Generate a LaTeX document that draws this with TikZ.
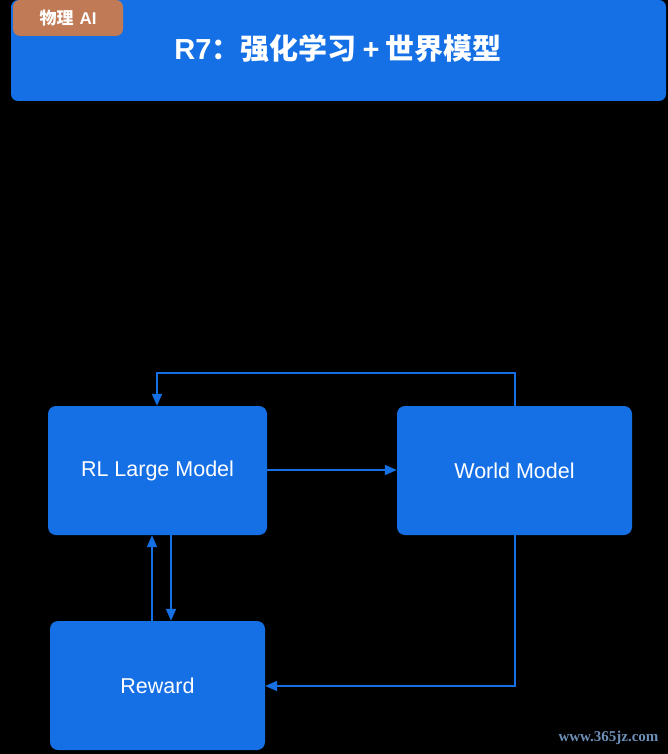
\documentclass[tikz,border=0pt]{standalone}
\usepackage{fontspec}
\setmainfont{Liberation Sans}
\newfontfamily\cjk{Noto Sans CJK SC}
\newfontfamily\wmfont{Liberation Serif}
\usetikzlibrary{arrows.meta}
\definecolor{mblue}{HTML}{1570E6}
\definecolor{tagbrown}{HTML}{C07A55}
\definecolor{wmark}{HTML}{6E8FB8}
\begin{document}
\begin{tikzpicture}[x=1pt,y=-1pt,
  boxtext/.style={text=white,font=\fontsize{21.5}{25}\selectfont},
  conn/.style={draw=mblue,line width=1.8pt,-{Triangle[length=12pt,width=10pt]}}]
\fill[black] (0,0) rectangle (668,754);
\useasboundingbox (0,0) rectangle (668,754);
% header
\fill[mblue,rounded corners=7pt] (11,0) rectangle (666,101);
\fill[tagbrown,rounded corners=7pt] (13,0) rectangle (123,36);
\node[text=white,font=\bfseries\fontsize{17}{20}\selectfont] (tag) at (68,18) {{\cjk 物理}\hspace{6pt}AI};
\node[text=white,font=\bfseries\fontsize{29}{32}\selectfont] (title) at (338,48) {R7{\cjk ：强化学习}\hspace{6pt}+\hspace{6pt}{\cjk 世界模型}};
% boxes
\fill[mblue,rounded corners=8pt] (48,406) rectangle (267,535);
\node[boxtext,minimum width=219pt,minimum height=129pt] (rl) at (157.5,470.5) {RL Large Model};
\fill[mblue,rounded corners=8pt] (397,406) rectangle (632,535);
\node[boxtext,minimum width=235pt,minimum height=129pt] (wm) at (514.5,470.5) {World Model};
\fill[mblue,rounded corners=8pt] (50,621) rectangle (265,750);
\node[boxtext,minimum width=215pt,minimum height=129pt] (rw) at (157.5,685.5) {Reward};
% connectors
\coordinate (c1) at (515,373);
\coordinate (c2) at (157,373);
\coordinate (c3) at (515,686);
\draw[conn] (wm.north -| c1) -- (c1) -- (c2) -- (rl.north -| c2);
\draw[conn] (rl.east |- 0,470) -- (wm.west |- 0,470);
\draw[conn] (rw.north -| 152,0) -- (rl.south -| 152,0);
\draw[conn] (rl.south -| 171,0) -- (rw.north -| 171,0);
\draw[conn] (wm.south -| c3) -- (c3) -- (rw.east |- c3);
% watermark
\node[text=wmark,font=\wmfont\bfseries\fontsize{15}{17}\selectfont,anchor=east] (wmk) at (662,738) {www.365jz.com};
\end{tikzpicture}
\end{document}
